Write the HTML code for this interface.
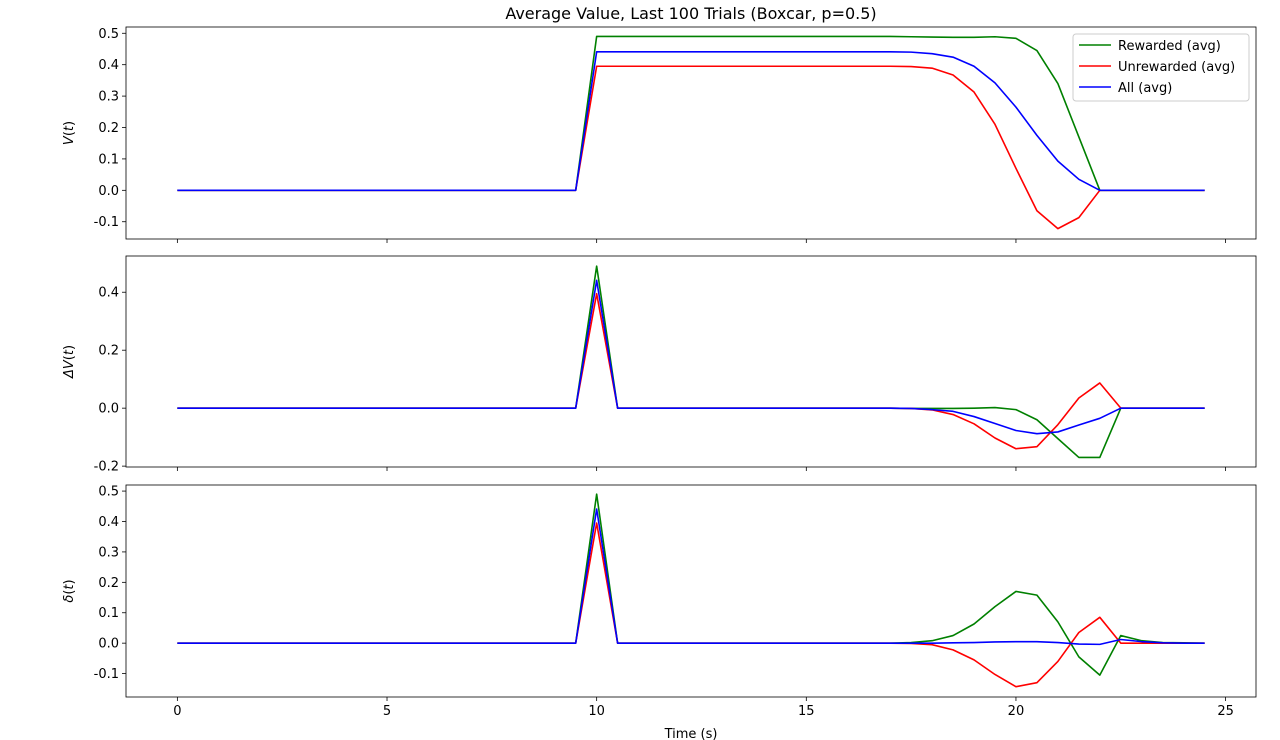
<!DOCTYPE html>
<html><head><meta charset="utf-8"><style>
body{margin:0;background:#fff;}
svg{display:block;font-family:"DejaVu Sans","Liberation Sans",sans-serif;}
</style></head><body>
<svg id="fig" width="1280" height="740" viewBox="0 0 1280 740" xmlns="http://www.w3.org/2000/svg"></svg>
<script>
const times=[0,0.5,1,1.5,2,2.5,3,3.5,4,4.5,5,5.5,6,6.5,7,7.5,8,8.5,9,9.5,10,10.5,11,11.5,12,12.5,13,13.5,14,14.5,15,15.5,16,16.5,17,17.5,18,18.5,19,19.5,20,20.5,21,21.5,22,22.5,23,23.5,24,24.5];
const vGreen=[0,0,0,0,0,0,0,0,0,0,0,0,0,0,0,0,0,0,0,0,0.49,0.49,0.49,0.49,0.49,0.49,0.49,0.49,0.49,0.49,0.49,0.49,0.49,0.49,0.49,0.489,0.488,0.487,0.487,0.489,0.484,0.445,0.34,0.17,0,0,0,0,0,0];
const vRed=[0,0,0,0,0,0,0,0,0,0,0,0,0,0,0,0,0,0,0,0,0.395,0.395,0.395,0.395,0.395,0.395,0.395,0.395,0.395,0.395,0.395,0.395,0.395,0.395,0.395,0.394,0.389,0.367,0.313,0.21,0.07,-0.065,-0.122,-0.087,0,0,0,0,0,0];
const vBlue=[0,0,0,0,0,0,0,0,0,0,0,0,0,0,0,0,0,0,0,0,0.441,0.441,0.441,0.441,0.441,0.441,0.441,0.441,0.441,0.441,0.441,0.441,0.441,0.441,0.441,0.44,0.435,0.424,0.395,0.342,0.265,0.175,0.093,0.035,0,0,0,0,0,0];
const dvGreen=[0,0,0,0,0,0,0,0,0,0,0,0,0,0,0,0,0,0,0,0,0.49,0,0,0,0,0,0,0,0,0,0,0,0,0,0,-0.001,-0.001,-0.001,0,0.002,-0.005,-0.04,-0.105,-0.17,-0.17,0,0,0,0,0];
const dvRed=[0,0,0,0,0,0,0,0,0,0,0,0,0,0,0,0,0,0,0,0,0.395,0,0,0,0,0,0,0,0,0,0,0,0,0,0,-0.001,-0.006,-0.022,-0.054,-0.103,-0.14,-0.133,-0.057,0.035,0.087,0,0,0,0,0];
const dvBlue=[0,0,0,0,0,0,0,0,0,0,0,0,0,0,0,0,0,0,0,0,0.441,0,0,0,0,0,0,0,0,0,0,0,0,0,0,-0.001,-0.005,-0.011,-0.029,-0.053,-0.077,-0.088,-0.082,-0.058,-0.035,0,0,0,0,0];
const dGreen=[0,0,0,0,0,0,0,0,0,0,0,0,0,0,0,0,0,0,0,0,0.49,0,0,0,0,0,0,0,0,0,0,0,0,0,0,0.002,0.008,0.025,0.063,0.12,0.17,0.158,0.07,-0.045,-0.105,0.025,0.008,0.002,0.001,0];
const dRed=[0,0,0,0,0,0,0,0,0,0,0,0,0,0,0,0,0,0,0,0,0.395,0,0,0,0,0,0,0,0,0,0,0,0,0,0,-0.001,-0.005,-0.022,-0.055,-0.103,-0.143,-0.13,-0.06,0.035,0.085,0,0,0,0,0];
const dBlue=[0,0,0,0,0,0,0,0,0,0,0,0,0,0,0,0,0,0,0,0,0.441,0,0,0,0,0,0,0,0,0,0,0,0,0,0,0,0,0.001,0.002,0.004,0.005,0.005,0.002,-0.003,-0.004,0.012,0.005,0.001,0,0];
const xTicks=[0,5,10,15,20,25];
const yTicks1=[-0.1,0.0,0.1,0.2,0.3,0.4,0.5];
const yTicks2=[-0.2,0.0,0.2,0.4];
const yTicks3=[-0.1,0.0,0.1,0.2,0.3,0.4,0.5];
const seriesNames=["Rewarded (avg)","Unrewarded (avg)","All (avg)"];

const NS="http://www.w3.org/2000/svg";
const svg=document.getElementById('fig');
function mk(tag,attrs,parent){const e=document.createElementNS(NS,tag);for(const k in attrs)e.setAttribute(k,attrs[k]);(parent||svg).appendChild(e);return e;}
const L=126,R=1256;
const xMin=-1.225,xMax=25.725;
const X=v=>L+(v-xMin)/(xMax-xMin)*(R-L);
const colors=["#008000","#ff0000","#0000ff"];

const panels=[
 {top:27,bot:239,ymin:-0.155,ymax:0.52,ticks:yTicks1,label:"V",series:[vGreen,vRed,vBlue],name:"value-panel",fmt:1},
 {top:256,bot:467,ymin:-0.203,ymax:0.525,ticks:yTicks2,label:"ΔV",series:[dvGreen,dvRed,dvBlue],name:"delta-value-panel",fmt:1},
 {top:485,bot:697,ymin:-0.177,ymax:0.52,ticks:yTicks3,label:"δ",series:[dGreen,dRed,dBlue],name:"td-error-panel",fmt:1}
];
panels.forEach((p,pi)=>{
 const g=mk('g',{});
 
 
 const Y=v=>p.bot-(v-p.ymin)/(p.ymax-p.ymin)*(p.bot-p.top);
 p.ticks.forEach(t=>{
  const y=Y(t);
  mk('line',{x1:L-4,x2:L,y1:y,y2:y,stroke:'#000','stroke-width':0.8},g);
  const tx=mk('text',{x:L-7,y:y+4.5,'text-anchor':'end','font-size':13},g);
  tx.textContent=t.toFixed(1);
 });
 xTicks.forEach(t=>{
  const x=X(t);
  mk('line',{x1:x,x2:x,y1:p.bot,y2:p.bot+4,stroke:'#000','stroke-width':0.8},g);
  if(pi===2){const tx=mk('text',{x:x,y:p.bot+18,'text-anchor':'middle','font-size':13},g);tx.textContent=String(t);}
 });
 p.series.forEach((s,si)=>{
  const pts=s.map((v,i)=>X(times[i]).toFixed(2)+','+Y(v).toFixed(2)).join(' ');
  const pl=mk('polyline',{points:pts,fill:'none',stroke:colors[si],'stroke-width':1.6,'stroke-linejoin':'round'},g);
  
  
 });
 mk('rect',{x:L,y:p.top,width:R-L,height:p.bot-p.top,fill:'none',stroke:'#000','stroke-width':0.8},g);
 const cy=(p.top+p.bot)/2;
 const yl=mk('text',{x:0,y:0,'text-anchor':'middle','font-size':13,transform:`translate(73,${cy}) rotate(-90)`},g);
 
 
 yl.innerHTML=`<tspan font-style="italic">${p.label}</tspan>(<tspan font-style="italic">t</tspan>)`;
});
const title=mk('text',{x:691,y:19,'text-anchor':'middle','font-size':16});


title.textContent="Average Value, Last 100 Trials (Boxcar, p=0.5)";
const xl=mk('text',{x:691,y:738,'text-anchor':'middle','font-size':13});


xl.textContent="Time (s)";
const lg=mk('g',{});


mk('rect',{x:1073,y:34,width:176,height:67,rx:3,fill:'#fff','fill-opacity':0.8,stroke:'#ccc','stroke-width':1},lg);
seriesNames.forEach((n,i)=>{
 const y=45+i*21;
 const e=mk('g',{},lg);
 
 
 mk('line',{x1:1079,x2:1111,y1:y,y2:y,stroke:colors[i],'stroke-width':1.6},e);
 const t=mk('text',{x:1118,y:y+5,'font-size':13},e);t.textContent=n;
});
</script>
</body></html>
